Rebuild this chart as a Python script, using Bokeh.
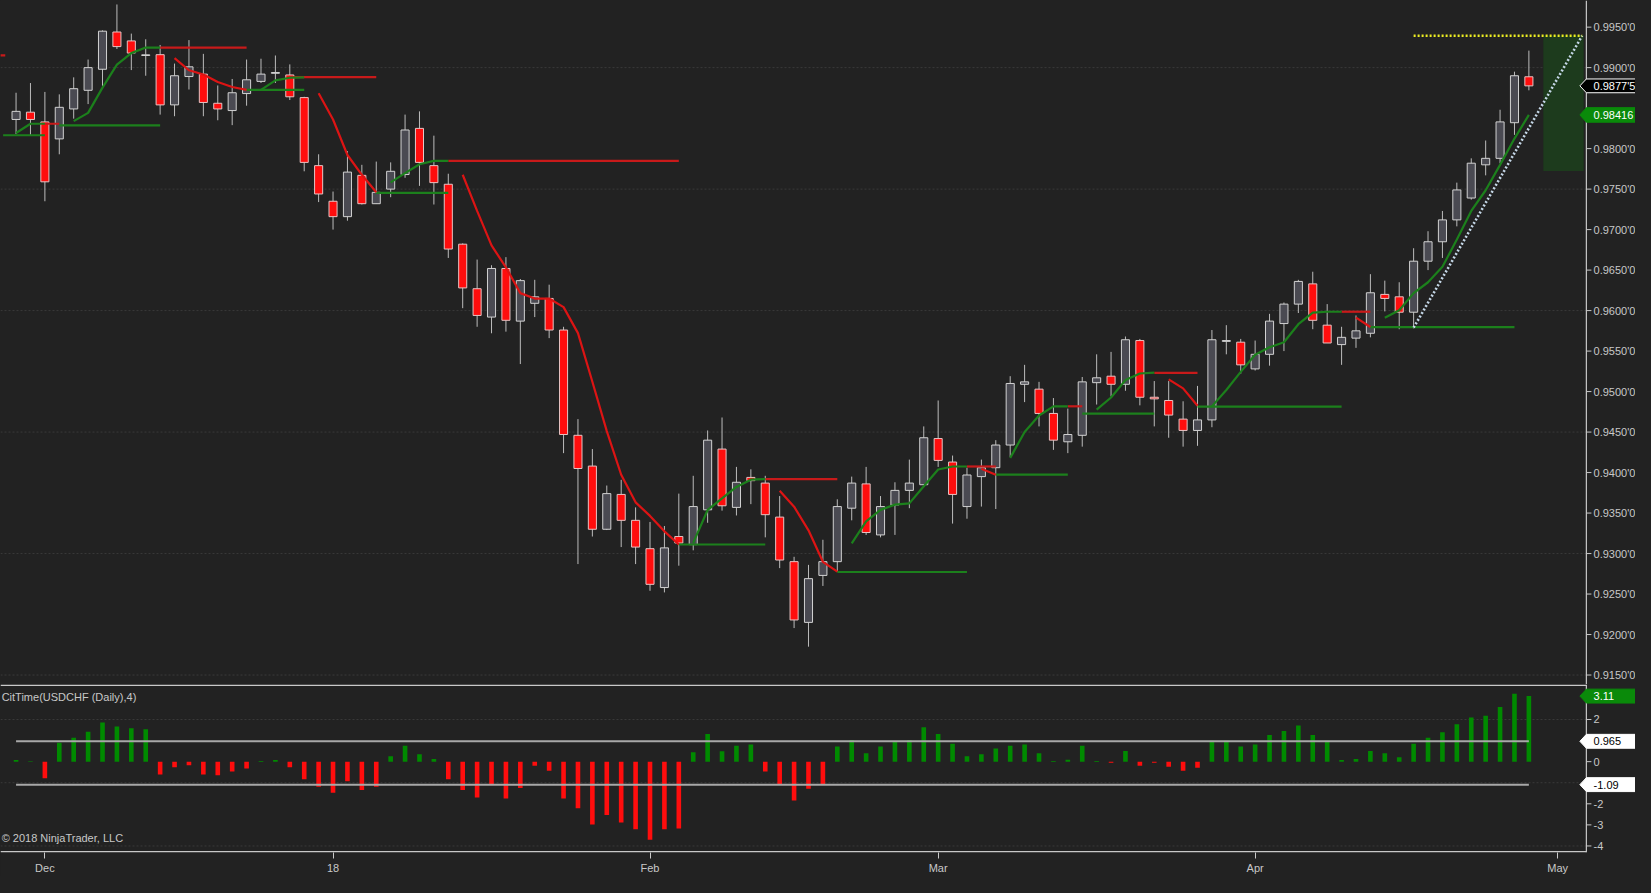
from bokeh.plotting import figure
from bokeh.models import Range1d, FixedTicker, LinearAxis
from bokeh.layouts import column
from bokeh.embed import file_html
from bokeh.resources import INLINE
from bokeh.core.properties import value

# ---------------- data ----------------
bar_index = list(range(-2, 104))
opens = [0.9836, 0.9845, 0.9833, 0.9812, 0.9849, 0.9872, 0.9898, 0.9944, 0.9933, 0.9915,
         0.9916, 0.9854, 0.9889, 0.9892, 0.9856, 0.9847, 0.9868, 0.9883, 0.9893, 0.9891,
         0.9863, 0.9779, 0.9735, 0.9716, 0.9767, 0.9732, 0.9750, 0.9768, 0.9825, 0.9779,
         0.9756, 0.9682, 0.9627, 0.9592, 0.9652, 0.9587, 0.9609, 0.9615, 0.9576, 0.9446,
         0.9408, 0.9330, 0.9373, 0.9341, 0.9306, 0.9258, 0.9321, 0.9311, 0.9354, 0.9429,
         0.9357, 0.9394, 0.9387, 0.9345, 0.9290, 0.9215, 0.9273, 0.9290, 0.9356, 0.9386,
         0.9323, 0.9360, 0.9378, 0.9385, 0.9442, 0.9413, 0.9358, 0.9395, 0.9406, 0.9434,
         0.9509, 0.9503, 0.9473, 0.9438, 0.9446, 0.9511, 0.9519, 0.9509, 0.9563, 0.9493,
         0.9489, 0.9466, 0.9452, 0.9465, 0.9562, 0.9561, 0.9528, 0.9546, 0.9584, 0.9608,
         0.9633, 0.9582, 0.9558, 0.9566, 0.9572, 0.9620, 0.9617, 0.9598, 0.9661, 0.9685,
         0.9712, 0.9739, 0.9780, 0.9788, 0.9832, 0.98887]
highs = [0.9869, 0.9881, 0.9870, 0.9867, 0.9888, 0.9910, 0.9946, 0.9978, 0.9942, 0.9935,
         0.9928, 0.9905, 0.9934, 0.9917, 0.9878, 0.9886, 0.9910, 0.9911, 0.9915, 0.9904,
         0.9864, 0.9793, 0.9747, 0.9797, 0.9780, 0.9784, 0.9783, 0.9842, 0.9846, 0.9816,
         0.9769, 0.9683, 0.9663, 0.9656, 0.9666, 0.9639, 0.9638, 0.9632, 0.9580, 0.9466,
         0.9429, 0.9384, 0.9391, 0.9357, 0.9339, 0.9334, 0.9374, 0.9396, 0.9452, 0.9468,
         0.9407, 0.9404, 0.9396, 0.9371, 0.9296, 0.9286, 0.9317, 0.9367, 0.9395, 0.9407,
         0.9371, 0.9388, 0.9416, 0.9457, 0.9489, 0.9421, 0.9406, 0.9416, 0.9440, 0.9519,
         0.9533, 0.9512, 0.9492, 0.9479, 0.9518, 0.9546, 0.9549, 0.9568, 0.9565, 0.9513,
         0.9513, 0.9488, 0.9507, 0.9576, 0.9582, 0.9565, 0.9563, 0.9596, 0.9610, 0.9638,
         0.9648, 0.9608, 0.9580, 0.9594, 0.9645, 0.9637, 0.9635, 0.9677, 0.9698, 0.9723,
         0.9758, 0.9788, 0.9810, 0.9848, 0.9895, 0.9921]
lows = [0.9818, 0.9817, 0.9735, 0.9793, 0.9837, 0.9855, 0.9874, 0.9923, 0.9897, 0.9890,
        0.9842, 0.9840, 0.9873, 0.9840, 0.9835, 0.9829, 0.9853, 0.9881, 0.9881, 0.9860,
        0.9772, 0.9734, 0.9700, 0.9711, 0.9731, 0.9732, 0.9740, 0.9764, 0.9754, 0.9731,
        0.9665, 0.9603, 0.9580, 0.9572, 0.9574, 0.9534, 0.9592, 0.9566, 0.9424, 0.9287,
        0.9321, 0.9329, 0.9308, 0.9287, 0.9254, 0.9252, 0.9285, 0.9304, 0.9338, 0.9353,
        0.9347, 0.9361, 0.9320, 0.9282, 0.9208, 0.9185, 0.9260, 0.9278, 0.9341, 0.9323,
        0.9320, 0.9323, 0.9356, 0.9382, 0.9407, 0.9337, 0.9343, 0.9358, 0.9355, 0.9419,
        0.9487, 0.9457, 0.9428, 0.9424, 0.9432, 0.9484, 0.9494, 0.9501, 0.9483, 0.9457,
        0.9443, 0.9432, 0.9433, 0.9456, 0.9546, 0.9522, 0.9526, 0.9532, 0.9550, 0.9597,
        0.9577, 0.9560, 0.9533, 0.9554, 0.9567, 0.9599, 0.9577, 0.9578, 0.9650, 0.9665,
        0.9704, 0.9737, 0.9767, 0.9782, 0.9817, 0.9872]
closes = [0.9846, 0.9836, 0.9759, 0.9851, 0.9874, 0.9900, 0.9945, 0.9926, 0.9918, 0.99158,
          0.9854, 0.9890, 0.9901, 0.9857, 0.9849, 0.9869, 0.9885, 0.9892, 0.9894, 0.9864,
          0.9783, 0.9744, 0.9716, 0.9771, 0.9732, 0.9746, 0.9772, 0.9823, 0.9783, 0.9758,
          0.9676, 0.9628, 0.9594, 0.9652, 0.9588, 0.9637, 0.9617, 0.9576, 0.9447, 0.9405,
          0.9330, 0.9374, 0.9341, 0.9308, 0.9262, 0.9307, 0.9313, 0.9358, 0.9440, 0.9359,
          0.9388, 0.9390, 0.9348, 0.9292, 0.9218, 0.9269, 0.9290, 0.9358, 0.9387, 0.9326,
          0.9358, 0.9378, 0.9387, 0.9443, 0.9415, 0.9373, 0.9397, 0.9406, 0.9434, 0.9510,
          0.9512, 0.9473, 0.9440, 0.9447, 0.9512, 0.9517, 0.9509, 0.9564, 0.9493, 0.9491,
          0.9471, 0.9452, 0.9465, 0.9564, 0.9563, 0.9533, 0.9546, 0.9587, 0.9608, 0.9636,
          0.9588, 0.9560, 0.9567, 0.9575, 0.9622, 0.9615, 0.9598, 0.9661, 0.9685, 0.9712,
          0.9749, 0.9782, 0.9788, 0.9833, 0.9890, 0.98775]

# CitTime(USDCHF (Daily),4) oscillator values
cit_time = [0.08, 0.02, -0.79, 0.90, 1.13, 1.42, 1.86, 1.67, 1.58, 1.54,
            -0.61, -0.26, -0.17, -0.61, -0.65, -0.47, -0.33, 0.03, 0.08, -0.26,
            -0.84, -1.19, -1.48, -0.93, -1.34, -1.19, 0.26, 0.76, 0.35, 0.12,
            -0.84, -1.34, -1.70, -1.07, -1.75, -1.25, -0.20, -0.43, -1.75, -2.21,
            -2.98, -2.53, -2.89, -3.21, -3.71, -3.21, -3.17, 0.44, 1.31, 0.49,
            0.76, 0.81, -0.47, -1.07, -1.84, -1.29, -1.07, 0.72, 1.03, 0.40,
            0.72, 0.94, 1.03, 1.63, 1.31, 0.85, 0.26, 0.35, 0.62, 0.76,
            0.81, 0.40, 0.03, 0.09, 0.76, 0.03, -0.05, 0.50, -0.20, -0.05,
            -0.24, -0.43, -0.29, 0.99, 0.99, 0.72, 0.81, 1.26, 1.45, 1.72,
            1.26, 0.99, 0.08, 0.12, 0.50, 0.40, 0.21, 0.85, 1.13, 1.40,
            1.77, 2.09, 2.18, 2.59, 3.22, 3.11]
cit_upper = 0.965
cit_lower = -1.09

# trend curves (falling = red, rising = green)
red_curves = [
    ([9, 10, 11, 12, 13, 14], [0.99118, 0.98968, 0.98916, 0.98822, 0.98761, 0.98725]),
    ([19, 20, 21, 22, 23], [0.98684, 0.98360, 0.97921, 0.97677, 0.97462]),
    ([29, 30, 31, 32, 33, 34, 35, 36, 37, 38, 39, 40, 41, 42, 43, 44],
     [0.97677, 0.97231, 0.96805, 0.96533, 0.96216, 0.96149, 0.96149, 0.96043, 0.95722,
      0.95122, 0.94512, 0.93973, 0.93632, 0.93465, 0.93274, 0.93112]),
    ([51, 52, 53, 54, 55], [0.93774, 0.93579, 0.93287, 0.92898, 0.92776]),
    ([65, 66], [0.94047, 0.93974]),
    ([78, 79, 80], [0.95150, 0.95040, 0.94825]),
    ([91, 92], [0.95913, 0.95797]),
]
green_curves = [
    ([-2, -1, 0], [0.98193, 0.98307, 0.98307]),
    ([2, 3, 4, 5, 6, 7, 8], [0.98339, 0.98441, 0.98753, 0.99037, 0.99179, 0.99248, 0.99248]),
    ([15, 16, 17, 18], [0.98725, 0.98843, 0.98875, 0.98880]),
    ([24, 25, 26, 27, 28], [0.97584, 0.97698, 0.97807, 0.97848, 0.97848]),
    ([45, 46, 47, 48, 49, 50], [0.93132, 0.93538, 0.93680, 0.93822, 0.93912, 0.93920]),
    ([56, 57, 58, 59, 60, 61, 62, 63, 64],
     [0.93125, 0.93397, 0.93539, 0.93604, 0.93620, 0.93831, 0.94038, 0.94075, 0.94075]),
    ([67, 68, 69, 70, 71], [0.94181, 0.94501, 0.94704, 0.94818, 0.94818]),
    ([73, 74, 75, 76, 77], [0.94777, 0.94927, 0.95142, 0.95223, 0.95235]),
    ([81, 82, 83, 84, 85, 86, 87, 88, 89, 90],
     [0.94817, 0.95020, 0.95243, 0.95455, 0.95548, 0.95609, 0.95832, 0.95974, 0.95986, 0.95986]),
    ([93, 94, 95, 96, 97, 98, 99, 100, 101, 102, 103],
     [0.95911, 0.96004, 0.96216, 0.96350, 0.96540, 0.96877, 0.97230, 0.97486, 0.97799,
      0.98124, 0.98416]),
]
# horizontal levels: start index, end index, price
red_levels_x0 = [-3.1, 0, 8, 17, 28, 50, 64, 71, 77, 90]
red_levels_x1 = [-2.75, 1, 14, 23, 44, 55, 66, 72, 80, 92]
red_levels_y = [0.99151, 0.98307, 0.99248, 0.98883, 0.97848, 0.93920, 0.94075, 0.94818, 0.95231, 0.95986]
green_levels_x0 = [-2.9, 1, 14, 23, 44, 55, 66, 72, 80, 92]
green_levels_x1 = [0, 8, 18, 28, 50, 64, 71, 77, 90, 102]
green_levels_y = [0.98165, 0.98286, 0.98725, 0.97454, 0.93112, 0.92772, 0.93974, 0.94728, 0.94813, 0.95797]

# drawing objects
ray_x = [95, 106.7]
ray_y = [0.95789, 0.99394]
target_x = [95, 106.7]
target_y = 0.99394
zone_x = [104, 106.8]
zone_y = [0.97723, 0.99400]

last_close = 0.98775
last_close_text = "0.9877'5"
last_trend = 0.98416
last_trend_text = "0.98416"
last_cit = 3.11
last_cit_text = "3.11"
cit_upper_text = "0.965"
cit_lower_text = "-1.09"

date_ticks = [0, 20, 42, 62, 84, 105]
date_labels = ["Dec", "18", "Feb", "Mar", "Apr", "May"]
price_ticks = [0.915, 0.92, 0.925, 0.93, 0.935, 0.94, 0.945, 0.95, 0.955,
               0.96, 0.965, 0.97, 0.975, 0.98, 0.99, 0.995]
price_labels = ["0.9150'0", "0.9200'0", "0.9250'0", "0.9300'0", "0.9350'0", "0.9400'0",
                "0.9450'0", "0.9500'0", "0.9550'0", "0.9600'0", "0.9650'0", "0.9700'0",
                "0.9750'0", "0.9800'0", "0.9900'0", "0.9950'0"]
price_grid = [0.915, 0.93, 0.945, 0.96, 0.975, 0.99]
cit_ticks = [-4, -3, -2, 0, 2]
cit_tick_labels = ["-4", "-3", "-2", "0", "2"]
cit_grid = [-4, -1, 2]

# ---------------- style ----------------
BG = "#222222"
FG = "#c8c8c8"
FONT = "Liberation Sans"
RED = "#dc1414"
RED_LVL = "#c81a1a"
GREEN = "#1c801c"
TAG_GREEN = "#0a8a0a"
W = 1635
X0, AXIS_X, X1 = -3.08, 106.99, 110.4      # frame start, price-axis line, frame end
TICK_LEN = 0.35
LABEL_X = AXIS_X + 0.5
ARROW = 0.45

x_range = Range1d(X0, X1)


def base_fig(height, y0, y1, bottom):
    f = figure(width=W, height=height, x_range=x_range, y_range=Range1d(y0, y1),
               output_backend="svg", toolbar_location=None, x_axis_location=None,
               y_axis_location=None, background_fill_color=BG, border_fill_color=BG,
               min_border_left=0, min_border_right=0, min_border_top=0,
               min_border_bottom=bottom, outline_line_color=None)
    f.xgrid.visible = False
    f.ygrid.visible = False
    return f


def price_axis(f, ticks, labels, grid, y0, y1):
    f.segment(x0=[X0] * len(grid), x1=[AXIS_X] * len(grid), y0=grid, y1=grid,
              line_color="#3a3a3a", line_width=1, line_dash="2 2")
    f.segment(x0=[AXIS_X], x1=[AXIS_X], y0=[y0], y1=[y1], line_color=FG, line_width=1.2)
    f.segment(x0=[AXIS_X] * len(ticks), x1=[AXIS_X + TICK_LEN] * len(ticks), y0=ticks, y1=ticks,
              line_color=FG, line_width=1)
    f.text(x=[LABEL_X] * len(ticks), y=ticks, text=labels, text_color=FG,
           text_font=value(FONT), text_font_size=value("11px"),
           text_baseline="middle", text_align="left")


def tag(f, y, half, text, bg, fg, border):
    f.patch([AXIS_X - ARROW, AXIS_X, X1 + 1, X1 + 1, AXIS_X],
            [y, y + half, y + half, y - half, y - half],
            fill_color=bg, line_color=border, line_width=1)
    f.text(x=[LABEL_X], y=[y], text=[text], text_color=fg, text_font=value(FONT),
           text_font_size=value("11px"), text_baseline="middle", text_align="left")


# ---------------- main price panel ----------------
MAIN_Y0, MAIN_Y1 = 0.91383, 0.99829
main = base_fig(684, MAIN_Y0, MAIN_Y1, 0)
price_axis(main, price_ticks, price_labels, price_grid, MAIN_Y0, MAIN_Y1)

main.quad(left=[zone_x[0]], right=[zone_x[1]], bottom=[zone_y[0]], top=[zone_y[1]],
          fill_color="#1d3b1d", line_color=None)

up = [c >= o for o, c in zip(opens, closes)]
main.segment(x0=bar_index, x1=bar_index, y0=lows, y1=highs, line_color="#bcbcbc", line_width=1)
body_bottom = [min(o, c) for o, c in zip(opens, closes)]
body_top = [max(o, c) for o, c in zip(opens, closes)]
fills = ["#4a4a52" if u else "#ff0d0d" for u in up]
edges = ["#d2d2d2" if u else "#e6c4c4" for u in up]
main.vbar(x=bar_index, width=0.56, bottom=body_bottom, top=body_top,
          fill_color=fills, line_color=edges, line_width=1)

main.segment(x0=red_levels_x0, x1=red_levels_x1, y0=red_levels_y, y1=red_levels_y,
             line_color=RED_LVL, line_width=2.2)
main.segment(x0=green_levels_x0, x1=green_levels_x1, y0=green_levels_y, y1=green_levels_y,
             line_color=GREEN, line_width=2.2)
for xs, ys in red_curves:
    main.line(xs, ys, line_color=RED, line_width=2.2)
for xs, ys in green_curves:
    main.line(xs, ys, line_color=GREEN, line_width=2.2)

main.line(ray_x, ray_y, line_color="#c4d6e6", line_width=2.6, line_dash="2 2")
main.line(target_x, [target_y, target_y], line_color="#ecec22", line_width=2.4, line_dash="2 2")

tag(main, last_close, 0.00085, last_close_text, "#000000", "#ffffff", "#ffffff")
tag(main, last_trend, 0.00090, last_trend_text, TAG_GREEN, "#ffffff", TAG_GREEN)

# ---------------- lower CitTime panel ----------------
LOW_Y0, LOW_Y1 = -4.31, 3.66
low = base_fig(170 + 22, LOW_Y0, LOW_Y1, 22)
price_axis(low, cit_ticks, cit_tick_labels, cit_grid, LOW_Y0, LOW_Y1)
# panel frame lines (top separator and bottom time-axis line)
low.segment(x0=[X0, X0], x1=[AXIS_X, AXIS_X], y0=[3.62, -4.27], y1=[3.62, -4.27],
            line_color=FG, line_width=1.5)

bar_colors = ["#008a00" if v >= 0 else "#ff0d0d" for v in cit_time]
low.vbar(x=bar_index, width=0.32, bottom=0, top=cit_time, fill_color=bar_colors,
         line_color=None)
low.segment(x0=[bar_index[0], bar_index[0]], x1=[bar_index[-1], bar_index[-1]],
            y0=[cit_upper, cit_lower], y1=[cit_upper, cit_lower],
            line_color="#a8a8a8", line_width=2)

low.text(x=[-3.0], y=[3.09], text=["CitTime(USDCHF (Daily),4)"], text_color=FG,
         text_font=value(FONT), text_font_size=value("11px"), text_baseline="middle")
low.text(x=[-3.0], y=[-3.62], text=["\u00a9 2018 NinjaTrader, LLC"], text_color=FG,
         text_font=value(FONT), text_font_size=value("11px"), text_baseline="middle")

tag(low, last_cit, 0.33, last_cit_text, TAG_GREEN, "#ffffff", TAG_GREEN)
tag(low, cit_upper, 0.33, cit_upper_text, "#ffffff", "#000000", "#ffffff")
tag(low, cit_lower, 0.33, cit_lower_text, "#ffffff", "#000000", "#ffffff")

# time axis below the lower panel
xax = LinearAxis(ticker=FixedTicker(ticks=date_ticks))
xax.major_label_overrides = dict(zip(date_ticks, date_labels))
xax.axis_line_color = None
xax.major_tick_line_color = FG
xax.minor_tick_line_color = None
xax.major_tick_out = 6
xax.major_tick_in = 0
xax.major_label_standoff = 3
xax.major_label_text_color = FG
xax.major_label_text_font = FONT
xax.major_label_text_font_size = "11px"
low.add_layout(xax, "below")

layout = column(main, low, spacing=0, styles={"background-color": BG})
html = file_html(layout, INLINE)
html = html.replace("<head>", "<head><style>html,body{background-color:#222222;}</style>", 1)
open("out.html", "w").write(html)
